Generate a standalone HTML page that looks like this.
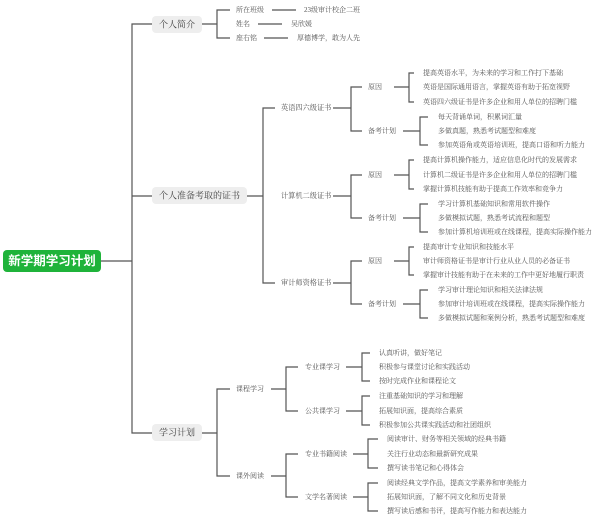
<!DOCTYPE html>
<html><head><meta charset="utf-8"><style>
html,body{margin:0;padding:0;background:#fff;}
svg{display:block;}
text{font-family:"Liberation Serif","Noto Serif CJK SC",serif;fill:#555;dominant-baseline:central;}
.s{font-size:7px;}
.m{font-size:7.2px;}
.l{font-size:9px;fill:#444;}
path{fill:none;stroke:#555;stroke-width:1.2;}
</style></head><body>
<svg width="612" height="522" viewBox="0 0 612 522" xmlns="http://www.w3.org/2000/svg">
<!-- root -->
<rect x="3" y="250" width="98" height="22" rx="4" fill="#1fb33a"/>
<text x="52" y="261" text-anchor="middle" style="font-family:'Liberation Sans','Noto Sans CJK SC',sans-serif;font-size:12.5px;fill:#fff;font-weight:bold">新学期学习计划</text>
<path d="M101 261H132M152 24H132V433H152M132 196H152"/>
<!-- level 1 -->
<rect x="152" y="16" width="50" height="17" rx="4" fill="#eee"/>
<text class="l" x="177" y="24.5" text-anchor="middle">个人简介</text>
<rect x="152" y="187" width="95" height="17" rx="4" fill="#eee"/>
<text class="l" x="199.5" y="195.5" text-anchor="middle">个人准备考取的证书</text>
<rect x="152" y="424" width="50" height="17" rx="4" fill="#eee"/>
<text class="l" x="177" y="432.5" text-anchor="middle">学习计划</text>

<!-- 个人简介 -->
<path d="M202 24H217M230 10H217V38H230"/>
<text class="s" x="236" y="10">所在班级</text>
<text class="s" x="236" y="24">姓名</text>
<text class="s" x="236" y="38">座右铭</text>
<path d="M272 10H296M258 24H282M264 38H288"/>
<text class="s" x="304" y="10">23级审计校企二班</text>
<text class="s" x="291" y="24">吴欣媛</text>
<text class="s" x="297" y="38">厚德博学，敢为人先</text>

<!-- 证书 -->
<path d="M247 196H263M275 108H263V283H275"/>
<text class="m" x="281" y="108">英语四六级证书</text>
<text class="m" x="281" y="196">计算机二级证书</text>
<text class="m" x="281" y="283">审计师资格证书</text>

<!-- 英语 -->
<path d="M333 108H351M362 87H351V131H362"/>
<text class="s" x="368" y="87">原因</text>
<text class="s" x="368" y="131">备考计划</text>
<path d="M394 87H409M414 73H409V102H414"/>
<text class="s" x="423" y="73">提高英语水平，为未来的学习和工作打下基础</text>
<text class="s" x="423" y="87">英语是国际通用语言，掌握英语有助于拓宽视野</text>
<text class="s" x="423" y="102">英语四六级证书是许多企业和用人单位的招聘门槛</text>
<path d="M403 131H420M428 117H420V145H428"/>
<text class="s" x="438" y="117">每天背诵单词，积累词汇量</text>
<text class="s" x="438" y="131">多做真题，熟悉考试题型和难度</text>
<text class="s" x="438" y="145">参加英语角或英语培训班，提高口语和听力能力</text>

<!-- 计算机 -->
<path d="M333 196H351M362 175H351V218H362"/>
<text class="s" x="368" y="175">原因</text>
<text class="s" x="368" y="218">备考计划</text>
<path d="M394 175H409M414 160H409V189H414"/>
<text class="s" x="423" y="160">提高计算机操作能力，适应信息化时代的发展需求</text>
<text class="s" x="423" y="175">计算机二级证书是许多企业和用人单位的招聘门槛</text>
<text class="s" x="423" y="189">掌握计算机技能有助于提高工作效率和竞争力</text>
<path d="M403 218H420M428 204H420V232H428"/>
<text class="s" x="438" y="204">学习计算机基础知识和常用软件操作</text>
<text class="s" x="438" y="218">多做模拟试题，熟悉考试流程和题型</text>
<text class="s" x="438" y="232">参加计算机培训班或在线课程，提高实际操作能力</text>

<!-- 审计 -->
<path d="M333 283H351M362 261H351V304H362"/>
<text class="s" x="368" y="261">原因</text>
<text class="s" x="368" y="304">备考计划</text>
<path d="M394 261H409M414 247H409V275H414"/>
<text class="s" x="423" y="247">提高审计专业知识和技能水平</text>
<text class="s" x="423" y="261">审计师资格证书是审计行业从业人员的必备证书</text>
<text class="s" x="423" y="275">掌握审计技能有助于在未来的工作中更好地履行职责</text>
<path d="M403 304H420M428 290H420V318H428"/>
<text class="s" x="438" y="290">学习审计理论知识和相关法律法规</text>
<text class="s" x="438" y="304">参加审计培训班或在线课程，提高实际操作能力</text>
<text class="s" x="438" y="318">多做模拟试题和案例分析，熟悉考试题型和难度</text>

<!-- 学习计划 -->
<path d="M202 433H217M230 389H217V476H230"/>
<text class="s" x="236" y="389">课程学习</text>
<text class="s" x="236" y="476">课外阅读</text>
<path d="M271 389H286M298 367H286V411H298"/>
<text class="s" x="305" y="367">专业课学习</text>
<text class="s" x="305" y="411">公共课学习</text>
<path d="M346 367H362M370 353H362V381H370"/>
<text class="s" x="379" y="353">认真听讲，做好笔记</text>
<text class="s" x="379" y="367">积极参与课堂讨论和实践活动</text>
<text class="s" x="379" y="381">按时完成作业和课程论文</text>
<path d="M346 411H362M370 396H362V425H370"/>
<text class="s" x="379" y="396">注重基础知识的学习和理解</text>
<text class="s" x="379" y="411">拓展知识面，提高综合素质</text>
<text class="s" x="379" y="425">积极参加公共课实践活动和社团组织</text>

<path d="M271 476H286M298 454H286V497H298"/>
<text class="s" x="305" y="454">专业书籍阅读</text>
<text class="s" x="305" y="497">文学名著阅读</text>
<path d="M353 454H368M378 439H368V468H378"/>
<text class="s" x="387" y="439">阅读审计、财务等相关领域的经典书籍</text>
<text class="s" x="387" y="454">关注行业动态和最新研究成果</text>
<text class="s" x="387" y="468">撰写读书笔记和心得体会</text>
<path d="M353 497H368M378 483H368V511H378"/>
<text class="s" x="387" y="483">阅读经典文学作品，提高文学素养和审美能力</text>
<text class="s" x="387" y="497">拓展知识面，了解不同文化和历史背景</text>
<text class="s" x="387" y="511">撰写读后感和书评，提高写作能力和表达能力</text>
</svg>
</body></html>
